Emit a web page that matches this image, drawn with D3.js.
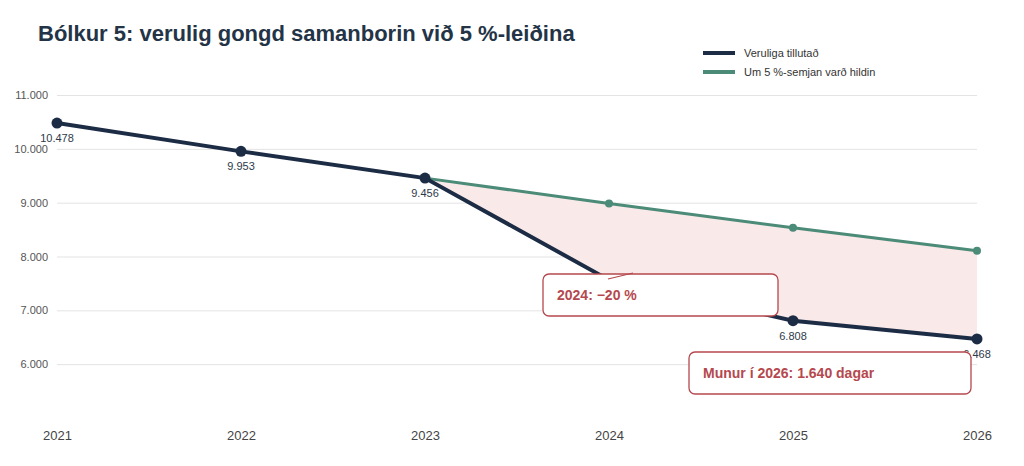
<!DOCTYPE html>
<html>
<head>
<meta charset="utf-8">
<script src="https://cdn.jsdelivr.net/npm/d3@7"></script>
<style>
  body { margin: 0; background: #fff; }
  svg { font-family: "Liberation Sans", Arial, sans-serif; }
</style>
</head>
<body>
<svg id="chart" width="1024" height="466"></svg>
<script>
// data
var years = [2021, 2022, 2023, 2024, 2025, 2026];
var actual = [10478, 9953, 9456, 7565, 6808, 6468];
var targetYears = [2023, 2024, 2025, 2026];
var target = [9456, 8983, 8534, 8107];
var yTicks = [6000, 7000, 8000, 9000, 10000, 11000];
var labelledYears = [2021, 2022, 2023, 2025, 2026];

var darkColor = "#1d2c45";
var greenColor = "#4b8b78";
var noteColor = "#b5484e";

var svg = d3.select("#chart");

var x = d3.scalePoint()
    .domain(years)
    .range([57, 977]);

var y = d3.scaleLinear()
    .domain([5000, 11000])
    .range([418, 95]);

var fmt = function (v) {
    return d3.format(",")(v).replace(/,/g, ".");
};

// title
svg.append("text")
    .attr("x", 38)
    .attr("y", 41)
    .attr("font-size", 22)
    .attr("font-weight", "bold")
    .attr("fill", "#243447")
    .text("Bólkur 5: verulig gongd samanborin við 5 %-leiðina");

// grid + y labels
var yAxis = svg.append("g")
    .attr("transform", "translate(57,0)")
    .call(d3.axisLeft(y).tickValues(yTicks).tickSize(-920).tickFormat(fmt).tickPadding(9));
yAxis.select(".domain").remove();
yAxis.selectAll(".tick line").attr("stroke", "#e3e3e3");
yAxis.selectAll(".tick text")
    .attr("font-size", 11)
    .attr("fill", "#555")
    .attr("font-family", "Liberation Sans, Arial, sans-serif");

// x labels
var xAxis = svg.append("g")
    .attr("transform", "translate(0,436)")
    .call(d3.axisBottom(x).tickSize(0).tickFormat(d3.format("d")).tickPadding(0));
xAxis.select(".domain").remove();
xAxis.selectAll(".tick text")
    .attr("font-size", 13)
    .attr("fill", "#444")
    .attr("dy", "0.32em")
    .attr("font-family", "Liberation Sans, Arial, sans-serif");

// shaded gap between the two paths
var gap = targetYears.map(function (yr, i) {
    return { year: yr, top: target[i], bottom: actual[years.indexOf(yr)] };
});
svg.append("path")
    .datum(gap)
    .attr("fill", "#f9e9e9")
    .attr("d", d3.area()
        .x(function (d) { return x(d.year); })
        .y0(function (d) { return y(d.bottom); })
        .y1(function (d) { return y(d.top); }));

// 5 % path
var targetPts = targetYears.map(function (yr, i) { return [yr, target[i]]; });
svg.append("path")
    .datum(targetPts)
    .attr("fill", "none")
    .attr("stroke", greenColor)
    .attr("stroke-width", 3)
    .attr("d", d3.line()
        .x(function (d) { return x(d[0]); })
        .y(function (d) { return y(d[1]); }));
svg.selectAll(".tdot")
    .data(targetPts.slice(1))
    .enter().append("circle")
    .attr("cx", function (d) { return x(d[0]); })
    .attr("cy", function (d) { return y(d[1]); })
    .attr("r", 4)
    .attr("fill", greenColor);

// actual path
var actualPts = years.map(function (yr, i) { return [yr, actual[i]]; });
svg.append("path")
    .datum(actualPts)
    .attr("fill", "none")
    .attr("stroke", darkColor)
    .attr("stroke-width", 4)
    .attr("d", d3.line()
        .x(function (d) { return x(d[0]); })
        .y(function (d) { return y(d[1]); }));
svg.selectAll(".adot")
    .data(actualPts)
    .enter().append("circle")
    .attr("cx", function (d) { return x(d[0]); })
    .attr("cy", function (d) { return y(d[1]); })
    .attr("r", 5.5)
    .attr("fill", darkColor);

svg.selectAll(".alabel")
    .data(actualPts.filter(function (d) { return labelledYears.indexOf(d[0]) >= 0; }))
    .enter().append("text")
    .attr("x", function (d) { return x(d[0]); })
    .attr("y", function (d) { return y(d[1]) + 19; })
    .attr("text-anchor", "middle")
    .attr("font-size", 11)
    .attr("fill", "#2e3a4a")
    .text(function (d) { return fmt(d[1]); });

// legend
var legendItems = [
    { label: "Veruliga tillutað", color: darkColor },
    { label: "Um 5 %-semjan varð hildin", color: greenColor }
];
var legend = svg.selectAll(".legend")
    .data(legendItems)
    .enter().append("g")
    .attr("transform", function (d, i) { return "translate(703," + (53 + i * 19) + ")"; });
legend.append("line")
    .attr("x1", 0).attr("x2", 32)
    .attr("stroke", function (d) { return d.color; })
    .attr("stroke-width", 4);
legend.append("text")
    .attr("x", 41)
    .attr("dy", "0.35em")
    .attr("font-size", 11)
    .attr("fill", "#333")
    .text(function (d) { return d.label; });

// annotations
function note(x0, y0, w, h, txt) {
    svg.append("rect")
        .attr("x", x0).attr("y", y0)
        .attr("width", w).attr("height", h)
        .attr("rx", 6)
        .attr("fill", "#fff")
        .attr("stroke", noteColor)
        .attr("stroke-width", 1.3);
    svg.append("text")
        .attr("x", x0 + 14)
        .attr("y", y0 + h / 2)
        .attr("dy", "0.35em")
        .attr("font-size", 14)
        .attr("font-weight", "bold")
        .attr("fill", noteColor)
        .text(txt);
}

note(543, 274, 235, 42, "2024: \u221220 %");
svg.append("line")
    .attr("x1", x(2024) - 1).attr("y1", 279)
    .attr("x2", x(2024) + 24).attr("y2", 273)
    .attr("stroke", noteColor)
    .attr("stroke-width", 1.2);

note(689, 352, 282, 42, "Munur í 2026: 1.640 dagar");
</script>
</body>
</html>
